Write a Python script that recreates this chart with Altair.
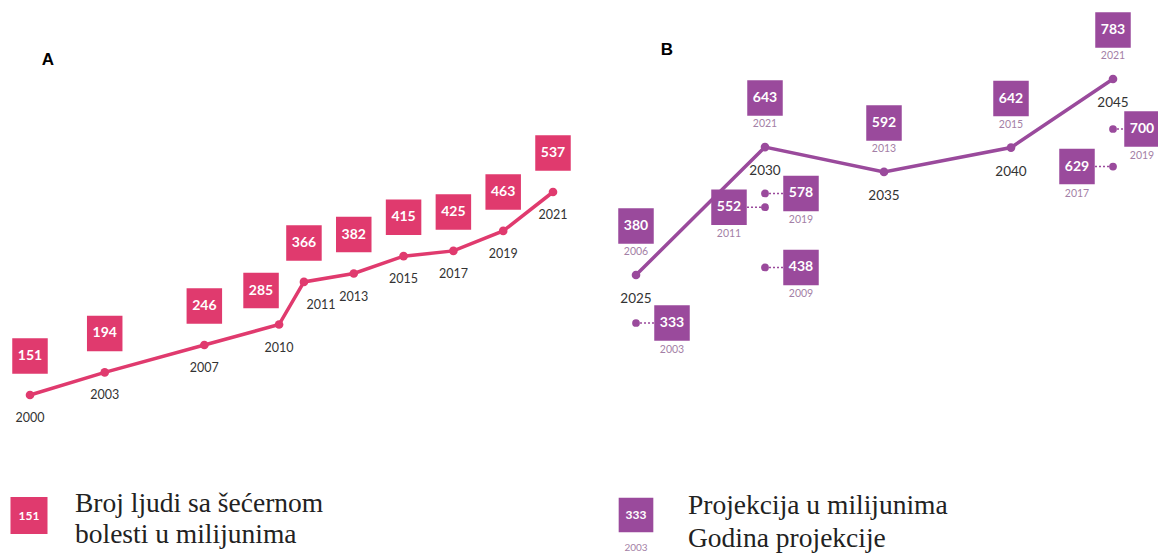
import altair as alt
import pandas as pd

# ---------------- data ----------------
years_a = [2000, 2003, 2007, 2010, 2011, 2013, 2015, 2017, 2019, 2021]
values_a = [151, 194, 246, 285, 366, 382, 415, 425, 463, 537]

target_b = [2025, 2030, 2035, 2040, 2045]
values_b = [380, 643, 592, 642, 783]
made_b = [2006, 2021, 2013, 2015, 2021]

extra_target = [2025, 2030, 2030, 2030, 2045, 2045]
extra_values = [333, 578, 552, 438, 700, 629]
extra_made = [2003, 2019, 2011, 2009, 2019, 2017]

legend_a_text = ["Broj ljudi sa šećernom", "bolesti u milijunima"]
legend_b_text = ["Projekcija u milijunima", "Godina projekcije"]
panel_titles = ["A", "B"]

# ---------------- style ----------------
PINK = "#e03a6e"
PURPLE = "#9a4a9c"
PURPLE_LIGHT = "#a47fa6"
DARK = "#333333"
NUM_FONT = "Lato"
SERIF = "Liberation Serif"
BOX = 1260

dfA = pd.DataFrame({"year": years_a, "value": values_a})
dfB = pd.DataFrame({"target": target_b, "value": values_b, "made": made_b})
dfE = pd.DataFrame({"target": extra_target, "value": extra_values, "made": extra_made})

xA = alt.X("year:Q", scale=alt.Scale(domain=[2000, 2021], range=[22, 545]), axis=None)
yA = alt.Y("value:Q", scale=alt.Scale(domain=[151, 537], range=[387, 184]), axis=None)
xB = alt.X("target:Q", scale=alt.Scale(domain=[2025, 2030, 2035, 2040, 2045],
                                       range=[628, 757, 876, 1003, 1105]), axis=None)
yB = alt.Y("value:Q", scale=alt.Scale(domain=[380, 783], range=[267, 71]), axis=None)
yE = alt.Y("value:Q", scale=alt.Scale(domain=[333, 700], range=[315, 121]), axis=None)

# ---------- panel A ----------
baseA = alt.Chart(dfA).encode(x=xA, y=yA)
lineA = baseA.mark_line(color=PINK, strokeWidth=3.5)
ptsA = baseA.mark_circle(color=PINK, size=75, opacity=1)
shifted_a = "datum.year == 2010"
boxA = baseA.transform_filter("!(" + shifted_a + ")").mark_square(
    color=PINK, size=BOX, opacity=1, yOffset=-39)
boxA2 = baseA.transform_filter(shifted_a).mark_square(
    color=PINK, size=BOX, opacity=1, yOffset=-34, xOffset=-18)
numA = baseA.transform_filter("!(" + shifted_a + ")").mark_text(
    color="white", font=NUM_FONT, fontWeight="bold", fontSize=14, yOffset=-39
).encode(text=alt.Text("value:Q", format="d"))
numA2 = baseA.transform_filter(shifted_a).mark_text(
    color="white", font=NUM_FONT, fontWeight="bold", fontSize=14, yOffset=-34, xOffset=-18
).encode(text=alt.Text("value:Q", format="d"))
shifted_y = "datum.year == 2011"
yrA = baseA.transform_filter("!(" + shifted_y + ")").mark_text(
    color=DARK, font=NUM_FONT, fontSize=12.5, yOffset=23
).encode(text=alt.Text("year:Q", format="d"))
yrA2 = baseA.transform_filter(shifted_y).mark_text(
    color=DARK, font=NUM_FONT, fontSize=12.5, yOffset=23, xOffset=17
).encode(text=alt.Text("year:Q", format="d"))

# ---------- panel B ----------
baseB = alt.Chart(dfB).encode(x=xB, y=yB)
lineB = baseB.mark_line(color=PURPLE, strokeWidth=3.5)
ptsB = baseB.mark_circle(color=PURPLE, size=75, opacity=1)
boxB = baseB.mark_square(color=PURPLE, size=BOX, opacity=1, yOffset=-49)
numB = baseB.mark_text(color="white", font=NUM_FONT, fontWeight="bold", fontSize=14,
                       yOffset=-49).encode(text=alt.Text("value:Q", format="d"))
madeB = baseB.mark_text(color=PURPLE_LIGHT, font=NUM_FONT, fontSize=10.5,
                        yOffset=-23).encode(text=alt.Text("made:Q", format="d"))
yrB = baseB.mark_text(color=DARK, font=NUM_FONT, fontSize=13.5,
                      yOffset=24).encode(text=alt.Text("target:Q", format="d"))

# ---------- earlier projections ----------
left_side = "datum.value == 552 || datum.value == 629"
edge_side = "datum.value == 700"
groups = [
    ("!(" + left_side + ") && !(" + edge_side + ")", 36),
    (left_side, -36),
    (edge_side, 29),
]
baseE = alt.Chart(dfE).encode(x=xB, y=yE)
ptsE = baseE.mark_circle(color=PURPLE, size=60, opacity=1)
layersE = [ptsE]
for cond, off in groups:
    b = baseE.transform_filter(cond)
    edge = off - 16 if off > 0 else off + 16
    layersE.append(b.mark_rule(color=PURPLE, strokeWidth=1.5, strokeDash=[2, 2],
                               x2Offset=edge).encode(x2=alt.X2("target:Q")))
    layersE.append(b.mark_square(color=PURPLE, size=BOX, opacity=1, xOffset=off))
    layersE.append(b.mark_text(color="white", font=NUM_FONT, fontWeight="bold", fontSize=14,
                               xOffset=off).encode(text=alt.Text("value:Q", format="d")))
    layersE.append(b.mark_text(color=PURPLE_LIGHT, font=NUM_FONT, fontSize=10.5,
                               xOffset=off, yOffset=27).encode(
        text=alt.Text("made:Q", format="d")))

# ---------- titles ----------
tA = alt.Chart(pd.DataFrame({"t": [panel_titles[0]]})).mark_text(
    font="Liberation Sans", fontWeight="bold", fontSize=17, color="black"
).encode(x=alt.value(40), y=alt.value(52), text="t:N")
tB = alt.Chart(pd.DataFrame({"t": [panel_titles[1]]})).mark_text(
    font="Liberation Sans", fontWeight="bold", fontSize=17, color="black"
).encode(x=alt.value(659), y=alt.value(42), text="t:N")

# ---------- legend ----------
legA_df = pd.DataFrame({"v": [values_a[0]]})
legA_box = alt.Chart(legA_df).mark_square(color=PINK, size=1370, opacity=1).encode(
    x=alt.value(21), y=alt.value(507.5))
legA_num = alt.Chart(legA_df).mark_text(color="white", font=NUM_FONT, fontWeight="bold",
                                        fontSize=12).encode(
    x=alt.value(21), y=alt.value(507.5), text=alt.Text("v:Q", format="d"))
legA_txt = alt.Chart(legA_df).mark_text(font=SERIF, fontSize=27.5, color="#222222",
                                        align="left", baseline="alphabetic",
                                        lineHeight=31).encode(
    x=alt.value(67), y=alt.value(504), text=alt.value(legend_a_text))

legB_df = pd.DataFrame({"v": [extra_values[0]], "m": [extra_made[0]]})
legB_box = alt.Chart(legB_df).mark_square(color=PURPLE, size=1200, opacity=1).encode(
    x=alt.value(628), y=alt.value(507))
legB_num = alt.Chart(legB_df).mark_text(color="white", font=NUM_FONT, fontWeight="bold",
                                        fontSize=12).encode(
    x=alt.value(628), y=alt.value(507), text=alt.Text("v:Q", format="d"))
legB_yr = alt.Chart(legB_df).mark_text(color=PURPLE_LIGHT, font=NUM_FONT,
                                       fontSize=10).encode(
    x=alt.value(628), y=alt.value(540), text=alt.Text("m:Q", format="d"))
legB_txt = alt.Chart(legB_df).mark_text(font=SERIF, fontSize=27.5, color="#222222",
                                        align="left", baseline="alphabetic",
                                        lineHeight=33).encode(
    x=alt.value(680), y=alt.value(506), text=alt.value(legend_b_text))

chart = alt.layer(
    lineA, ptsA, boxA, boxA2, numA, numA2, yrA, yrA2,
    lineB, ptsB, boxB, numB, madeB, yrB,
    *layersE,
    tA, tB,
    legA_box, legA_num, legA_txt, legB_box, legB_num, legB_yr, legB_txt,
).resolve_scale(x="independent", y="independent").properties(
    width=1150, height=546, autosize=alt.AutoSizeParams(type="none"), padding=0
).configure_view(stroke=None)

chart.save("out.html", embed_options={"renderer": "svg", "actions": False})
